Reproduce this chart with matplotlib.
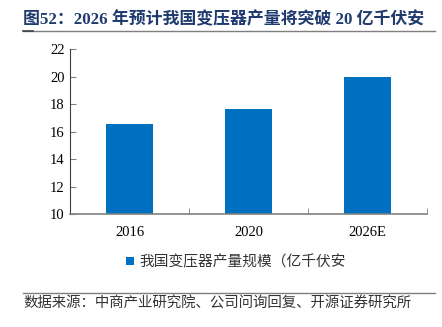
import matplotlib
matplotlib.use("Agg")
import matplotlib.pyplot as plt
from matplotlib.lines import Line2D

categories = ["2016", "2020", "2026E"]
values = [16.55, 17.65, 20.0]
yticks = [10, 12, 14, 16, 18, 20, 22]
legend_label = "我国变压器产量规模（亿千伏安"
title = "图52：2026 年预计我国变压器产量将突破 20 亿千伏安"
source = "数据来源：中商产业研究院、公司问询回复、开源证券研究所"

fam = ["Liberation Serif", "Noto Sans CJK SC"]
plt.rcParams['font.family'] = fam

fig = plt.figure(figsize=(4.42, 3.27), dpi=100)
ax = fig.add_axes([70/442, 1-214/327, 357/442, (214-49.3)/327])

x = range(len(categories))
ax.bar(x, values, width=0.4, color="#0070C0", label=legend_label, zorder=2)
ax.set_xlim(-0.5, 2.5)
ax.set_ylim(10, 22)
ax.set_yticks(yticks)
ax.set_xticks(list(x))
ax.set_xticklabels(categories)
ax.tick_params(axis='x', length=0, pad=9, labelsize=10.5, colors="#000000")
ax.tick_params(axis='y', length=4, direction='in', pad=4, labelsize=10.5, color="#808080")
for lab in ax.get_xticklabels() + ax.get_yticklabels():
    lab.set_family(fam)
ax.set_xticks([0.5, 1.5, 2.5], minor=True)
ax.tick_params(axis='x', which='minor', length=4, direction='in', color="#808080")
for s in ["top", "right"]:
    ax.spines[s].set_visible(False)
ax.spines["left"].set_color("#404040")
ax.spines["bottom"].set_color("#808080")
ax.spines["bottom"].set_linewidth(1.2)

leg = fig.legend(*ax.get_legend_handles_labels(), loc="center left",
                 bbox_to_anchor=(123/442, 1-262/327), frameon=False,
                 handlelength=0.55, handleheight=0.55, handletextpad=0.35,
                 borderaxespad=0, borderpad=0.2,
                 prop={"family": ["Noto Sans CJK SC"], "size": 10.6})
leg.get_texts()[0].set_color("#333333")

fig.text(23/442, 1-20/327, title, fontsize=12.2, fontweight="bold", color="#1F3A6E",
         va="center", ha="left", family=fam)
fig.add_artist(Line2D([23/442, 435/442], [1-31/327, 1-31/327], color="#7F7F7F", lw=1.0))
fig.add_artist(Line2D([23/442, 33/442], [1-31/327, 1-31/327], color="#404040", lw=1.2))
fig.add_artist(Line2D([23/442, 435/442], [1-293/327, 1-293/327], color="#7F7F7F", lw=1.0))
fig.text(23/442, 1-304/327, source, fontsize=10.4, color="#333333", va="center", ha="left",
         family=["Noto Sans CJK SC"])

fig.savefig("out.png", dpi=100)
